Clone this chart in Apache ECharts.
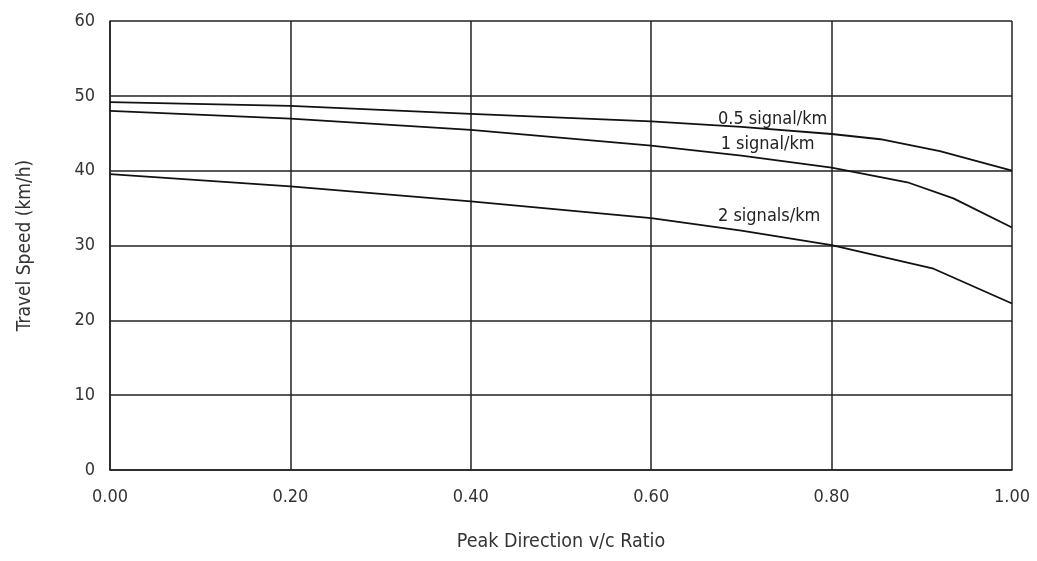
<!DOCTYPE html>
<html>
<head>
<meta charset="utf-8">
<script src="https://cdn.jsdelivr.net/npm/echarts@6/dist/echarts.min.js"></script>
<style>html,body{margin:0;padding:0;background:#fff}#c{width:1037px;height:561px}</style>
</head>
<body>
<div id="c"></div>
<script>
const xTicks = ['0.00','0.20','0.40','0.60','0.80','1.00'];
const yTicks = [0,10,20,30,40,50,60];
const seriesNames = ['0.5 signal/km','1 signal/km','2 signals/km'];
const vc05 = [0, 0.2, 0.4, 0.6, 0.7, 0.8, 0.854, 0.92, 1.0];
const speed05 = [49.16, 48.66, 47.6, 46.6, 45.85, 44.9, 44.2, 42.6, 40.0];
const vc1 = [0, 0.2, 0.4, 0.6, 0.7, 0.8, 0.884, 0.935, 1.0];
const speed1 = [48.0, 46.96, 45.45, 43.35, 42.0, 40.4, 38.45, 36.3, 32.4];
const vc2 = [0, 0.2, 0.4, 0.6, 0.7, 0.8, 0.913, 1.0];
const speed2 = [39.55, 37.9, 35.9, 33.65, 32.0, 30.05, 26.9, 22.25];

const font = '"DejaVu Sans Condensed","Liberation Sans Narrow","Arial Narrow",sans-serif';
const pair = (xs, ys) => xs.map((x, i) => [x, ys[i]]);
const labelPos = [[0.674, 46.9], [0.677, 43.55], [0.674, 33.9]];
const datasets = [pair(vc05, speed05), pair(vc1, speed1), pair(vc2, speed2)];

const chart = echarts.init(document.getElementById('c'), null, {renderer: 'canvas'});
chart.setOption({
  animation: false,
  backgroundColor: '#fff',
  grid: {left: 110, right: 25, top: 21, bottom: 91, containLabel: false},
  xAxis: {
    type: 'value', min: 0, max: 1, interval: 0.2,
    name: 'Peak Direction v/c Ratio', nameLocation: 'middle', nameGap: 62,
    nameTextStyle: {fontFamily: font, fontSize: 19.5, color: '#333'},
    axisLine: {lineStyle: {color: '#222', width: 1.5}},
    axisTick: {show: false},
    axisLabel: {fontFamily: font, fontSize: 18, color: '#333', margin: 18,
      formatter: v => xTicks[Math.round(v / 0.2)]},
    splitLine: {show: true, lineStyle: {color: '#222', width: 1.5}}
  },
  yAxis: {
    type: 'value', min: 0, max: 60, interval: 10,
    name: 'Travel Speed (km/h)', nameLocation: 'middle', nameGap: 75, nameRotate: 90,
    nameTextStyle: {fontFamily: font, fontSize: 19, color: '#333'},
    axisLine: {show: true, lineStyle: {color: '#222', width: 1.5}},
    axisTick: {show: false},
    axisLabel: {fontFamily: font, fontSize: 18, color: '#333', margin: 15,
      formatter: v => String(yTicks[Math.round(v / 10)])},
    splitLine: {show: true, lineStyle: {color: '#222', width: 1.5}}
  },
  series: datasets.map((d, i) => ({
    name: seriesNames[i], type: 'line', data: d, showSymbol: false, symbol: 'none',
    lineStyle: {color: '#111', width: 1.8}, z: 3,
    markPoint: {
      symbol: 'circle', symbolSize: 0,
      data: [{coord: labelPos[i], value: seriesNames[i]}],
      label: {show: true, position: 'right', distance: 0, formatter: seriesNames[i],
        fontFamily: font, fontSize: 18, color: '#222'}
    }
  }))
});
</script>
</body>
</html>
